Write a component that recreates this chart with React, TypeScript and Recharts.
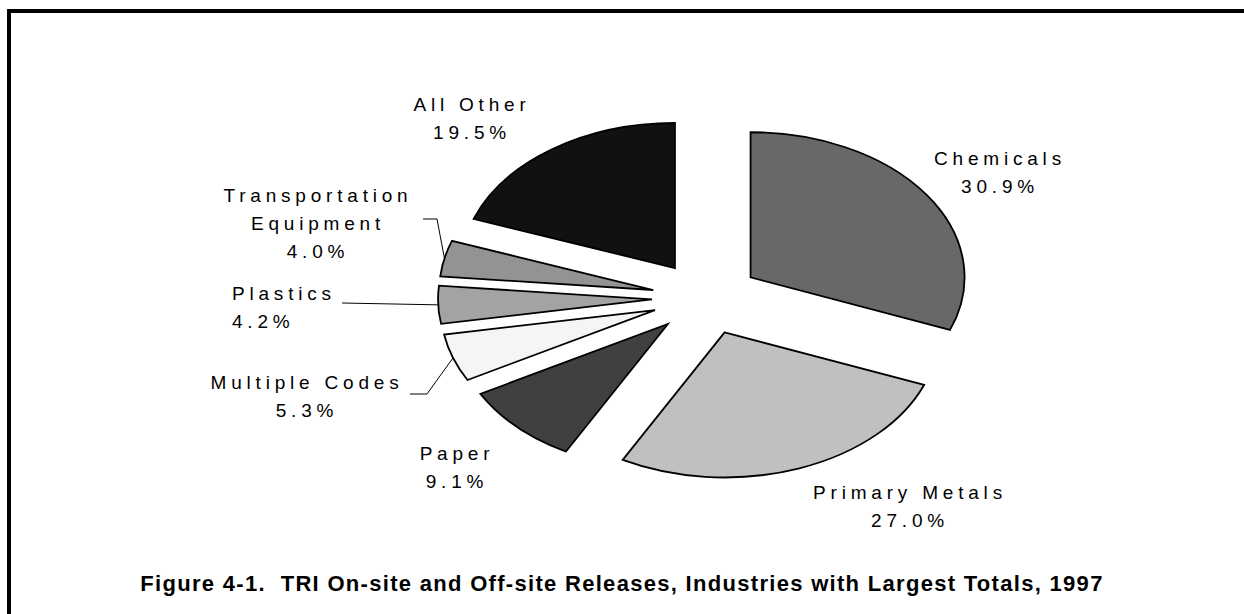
import React from 'react';
import { PieChart, Pie, Cell } from 'recharts';

const industries = ['Chemicals', 'Primary Metals', 'Paper', 'Multiple Codes', 'Plastics', 'Transportation Equipment', 'All Other'];
const shares = [30.9, 27.0, 9.1, 5.3, 4.2, 4.0, 19.5];
const shades = ['#686868', '#c0c0c0', '#404040', '#f5f5f5', '#a3a3a3', '#939393', '#111111'];
const labelLines = [['Chemicals'], ['Primary Metals'], ['Paper'], ['Multiple Codes'], ['Plastics'], ['Transportation', 'Equipment'], ['All Other']];

const data = industries.map((name, i) => ({ name, value: shares[i] }));

const FLAT = 0.678; // the pie is tilted, so it is squashed vertically
const EXPLODE = 54;
const FONT = '"Liberation Sans", Arial, sans-serif';
const LINE_H = 28;

// where each label sits, relative to the pie centre; leader = polyline from text to slice
const labelSpots: { dx: number; dy: number; anchor: 'middle' | 'start'; leader?: number[][] }[] = [
  { dx: 294, dy: -140, anchor: 'middle' },
  { dx: 204, dy: 194, anchor: 'middle' },
  { dx: -249, dy: 155, anchor: 'middle' },
  { dx: -399, dy: 84, anchor: 'middle', leader: [[-296, 96], [-279, 96]] },
  { dx: -474, dy: -5, anchor: 'start', leader: [[-364, 5]] },
  { dx: -388, dy: -103, anchor: 'middle', leader: [[-283, -79], [-269, -79]] },
  { dx: -234, dy: -194, anchor: 'middle' },
];

const RAD = Math.PI / 180;

const ExplodedSlice = (props: any) => {
  const { cx, cy, outerRadius, startAngle, endAngle, fill } = props;
  const mid = ((startAngle + endAngle) / 2) * RAD;
  const ox = cx + EXPLODE * Math.cos(mid);
  const oy = cy - EXPLODE * FLAT * Math.sin(mid);
  const rx = outerRadius;
  const ry = outerRadius * FLAT;
  const x0 = ox + rx * Math.cos(startAngle * RAD);
  const y0 = oy - ry * Math.sin(startAngle * RAD);
  const x1 = ox + rx * Math.cos(endAngle * RAD);
  const y1 = oy - ry * Math.sin(endAngle * RAD);
  const large = Math.abs(endAngle - startAngle) > 180 ? 1 : 0;
  const sweep = endAngle < startAngle ? 1 : 0;
  return (
    <path
      d={`M${ox},${oy} L${x0},${y0} A${rx},${ry} 0 ${large} ${sweep} ${x1},${y1} Z`}
      fill={fill}
      stroke="#000"
      strokeWidth={1.8}
    />
  );
};

const renderLabel = (props: any) => {
  const { cx, cy, midAngle, outerRadius, index, value } = props;
  const spot = labelSpots[index];
  const lines = [...labelLines[index], `${Number(value).toFixed(1)}%`];
  const m = midAngle * RAD;
  const r = outerRadius + EXPLODE;
  const edge = [cx + r * Math.cos(m), cy - r * FLAT * Math.sin(m)];
  return (
    <g key={`lbl-${index}`}>
      {spot.leader && (
        <polyline
          points={[...spot.leader.map(([x, y]) => `${cx + x},${cy + y}`), `${edge[0]},${edge[1]}`].join(' ')}
          fill="none"
          stroke="#000"
          strokeWidth={1}
        />
      )}
      {lines.map((t, k) => (
        <text
          key={k}
          x={cx + spot.dx}
          y={cy + spot.dy + k * LINE_H}
          textAnchor={spot.anchor}
          dominantBaseline="central"
          fontFamily={FONT}
          fontSize={19}
          fill="#000"
          style={{ letterSpacing: 4.8 }}
        >
          {t}
        </text>
      ))}
    </g>
  );
};

export default function App() {
  return (
    <div style={{ position: 'absolute', left: 0, top: 0, width: 1244, height: 614, overflow: 'hidden', background: '#fff' }}>
      <div style={{ position: 'absolute', left: 7, top: 9, width: 1300, height: 700, border: '4px solid #000' }} />
      <div style={{ position: 'absolute', left: 0, top: 0 }}>
        <PieChart width={1244} height={614} margin={{ top: 0, right: 0, bottom: 0, left: 0 }}>
          <Pie
            data={data}
            dataKey="value"
            nameKey="name"
            cx={706}
            cy={298}
            outerRadius={214}
            startAngle={90}
            endAngle={-270}
            stroke="#000"
            shape={ExplodedSlice}
            label={renderLabel}
            labelLine={false}
            isAnimationActive={false}
          >
            {data.map((d, i) => (
              <Cell key={d.name} fill={shades[i]} />
            ))}
          </Pie>
        </PieChart>
      </div>
      <div
        style={{
          position: 'absolute',
          left: 0,
          width: 1244,
          top: 571,
          textAlign: 'center',
          fontFamily: FONT,
          fontWeight: 'bold',
          fontSize: 22,
          letterSpacing: 1.3,
          color: '#000',
          whiteSpace: 'nowrap',
        }}
      >
        Figure 4-1.&nbsp; TRI On-site and Off-site Releases, Industries with Largest Totals, 1997
      </div>
    </div>
  );
}
